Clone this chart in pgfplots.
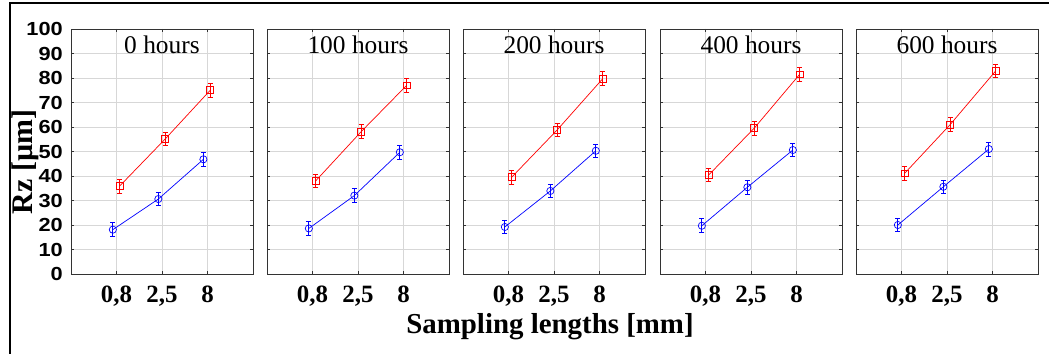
\documentclass[border=0pt]{standalone}
\usepackage{pgfplots}
\pgfplotsset{compat=1.18}
\usepackage{fontspec}
\setmainfont{Liberation Serif}
\setsansfont{Liberation Sans}
\newcommand\yl[1]{\scalebox{1.15}[1]{#1}}
\definecolor{gridgray}{RGB}{215,215,215}
\pgfplotsset{
  panel/.style={
    width=182bp, height=245bp, scale only axis,
    xmin=0, xmax=4, ymin=0, ymax=100,
    xtick={1,2,3}, xticklabels={{0,8},{2,5},8},
    ytick={0,10,...,100},
    grid=major, major grid style={gridgray, line width=0.8bp},
    axis line style={black!80, line width=0.9bp},
    tick align=inside, major tick length=3bp,
    tick style={black!80, line width=0.8bp},
    xticklabel style={font=\fontsize{25}{25}\selectfont\bfseries, inner sep=0pt, yshift=-12bp},
    yticklabels={},
    clip=false,
  },
  redser/.style={color=red, line width=0.7bp, mark=square, mark size=3.4bp,
    mark options={solid, line width=0.7bp},
    error bars/.cd, y dir=both, y explicit,
    error bar style={red, line width=0.8bp}, error mark options={red, line width=0.8bp, mark size=2.6bp, rotate=90}},
  blueser/.style={color=blue, line width=0.7bp, mark=o, mark size=3.6bp,
    mark options={solid, line width=0.7bp},
    error bars/.cd, y dir=both, y explicit,
    error bar style={blue, line width=0.8bp}, error mark options={blue, line width=0.8bp, mark size=2.6bp, rotate=90}},
}
\newcommand\paneltitle[1]{\node[anchor=north, inner sep=0pt, font=\fontsize{25.5}{25.5}\selectfont] at (rel axis cs:0.5,1) [yshift=-7bp] {#1};}
\begin{document}
\begin{tikzpicture}
\path[use as bounding box] (0bp,0bp) rectangle (1049bp,354bp);
\draw[line width=2.2bp] (10bp,0bp) -- (10bp,351bp) -- (1049bp,351bp);

% panel 1: 0 hours
\begin{axis}[panel, at={(71bp,80bp)}, anchor=south west,
  yticklabels={\yl{0},\yl{10},\yl{20},\yl{30},\yl{40},\yl{50},\yl{60},\yl{70},\yl{80},\yl{90},\yl{100}},
  yticklabel style={font=\fontsize{19}{19}\selectfont\sffamily\bfseries, inner sep=0pt, xshift=-8bp}]
\addplot[redser] coordinates {(1.07,35.9) +- (0,2.8) (2.07,55.1) +- (0,2.8) (3.06,75.0) +- (0,2.8)};
\addplot[blueser] coordinates {(0.92,18.1) +- (0,2.8) (1.92,30.6) +- (0,2.8) (2.91,46.8) +- (0,2.8)};
\paneltitle{0 hours}
\end{axis}

% panel 2: 100 hours
\begin{axis}[panel, at={(267bp,80bp)}, anchor=south west]
\addplot[redser] coordinates {(1.07,38.0) +- (0,2.8) (2.07,58.1) +- (0,2.8) (3.07,77.0) +- (0,2.8)};
\addplot[blueser] coordinates {(0.92,18.6) +- (0,2.8) (1.92,32.0) +- (0,2.8) (2.92,49.7) +- (0,2.8)};
\paneltitle{100 hours}
\end{axis}

% panel 3: 200 hours
\begin{axis}[panel, at={(463bp,80bp)}, anchor=south west]
\addplot[redser] coordinates {(1.07,39.5) +- (0,2.8) (2.07,58.8) +- (0,2.8) (3.07,79.7) +- (0,2.8)};
\addplot[blueser] coordinates {(0.92,19.2) +- (0,2.8) (1.92,33.9) +- (0,2.8) (2.92,50.3) +- (0,2.8)};
\paneltitle{200 hours}
\end{axis}

% panel 4: 400 hours
\begin{axis}[panel, at={(660bp,80bp)}, anchor=south west]
\addplot[redser] coordinates {(1.07,40.4) +- (0,2.8) (2.07,59.5) +- (0,2.8) (3.07,81.5) +- (0,2.8)};
\addplot[blueser] coordinates {(0.92,19.7) +- (0,2.8) (1.92,35.4) +- (0,2.8) (2.92,50.6) +- (0,2.8)};
\paneltitle{400 hours}
\end{axis}

% panel 5: 600 hours
\begin{axis}[panel, at={(856bp,80bp)}, anchor=south west]
\addplot[redser] coordinates {(1.07,41.1) +- (0,2.8) (2.07,61.0) +- (0,2.8) (3.07,82.9) +- (0,2.8)};
\addplot[blueser] coordinates {(0.92,20.0) +- (0,2.8) (1.92,35.6) +- (0,2.8) (2.92,51.0) +- (0,2.8)};
\paneltitle{600 hours}
\end{axis}

\node[rotate=90, inner sep=0pt, font=\fontsize{30}{30}\selectfont\bfseries] at (25bp,192bp) {Rz [µm]};
\node[inner sep=0pt, font=\fontsize{29}{29}\selectfont\bfseries] at (550bp,27bp) {Sampling lengths [mm]};
\end{tikzpicture}
\end{document}
